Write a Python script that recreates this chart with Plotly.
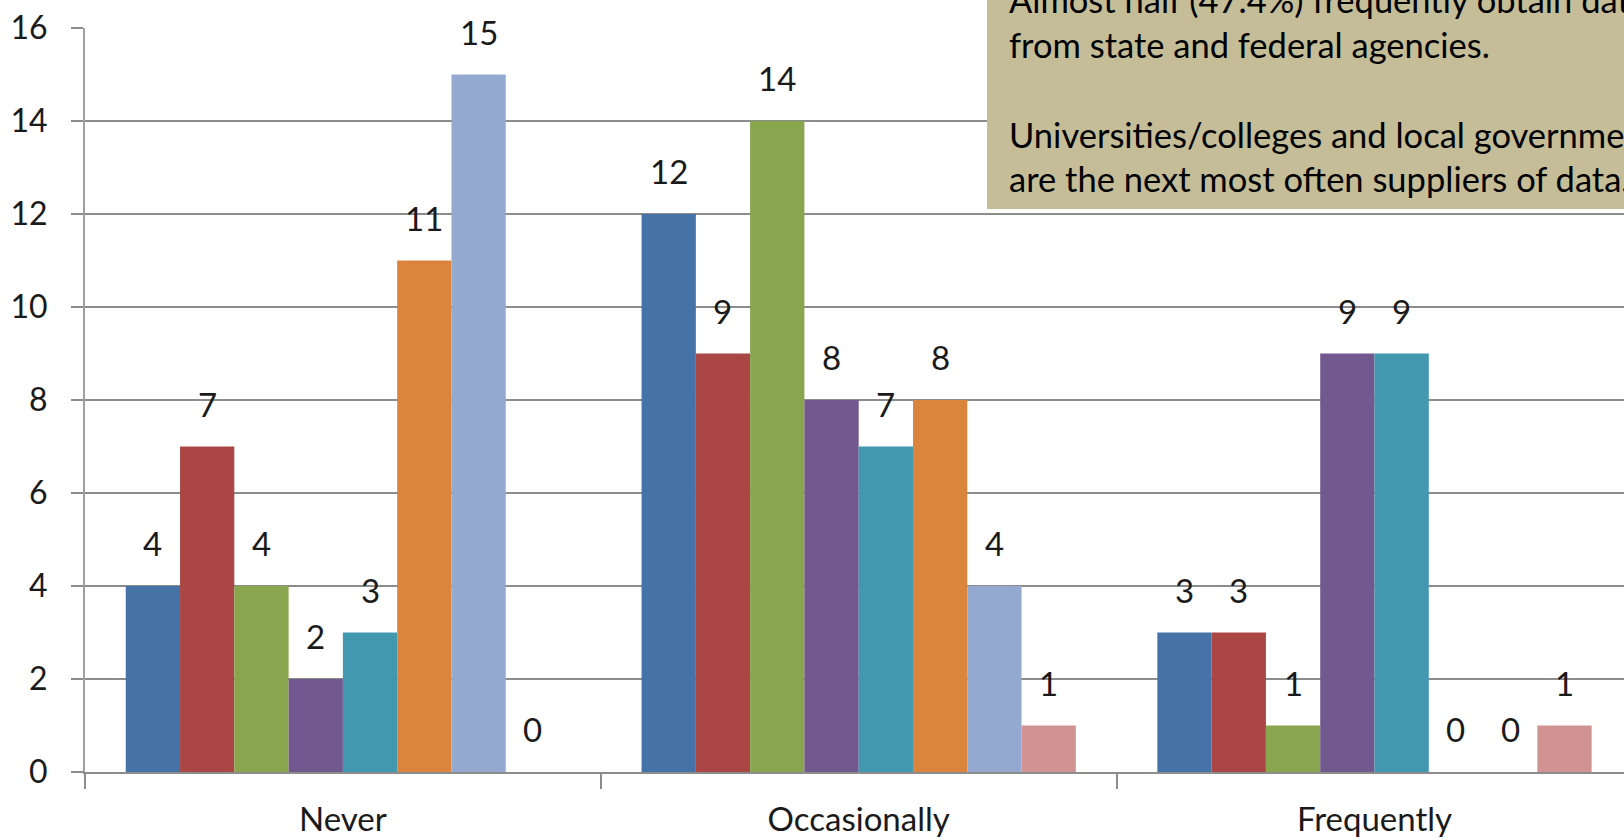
import plotly.graph_objects as go

# Response frequency per data source (8 sources, 3 frequency groups)
categories = ["Never", "Occasionally", "Frequently"]
series_values = [
    [4, 12, 3],
    [7, 9, 3],
    [4, 14, 1],
    [2, 8, 9],
    [3, 7, 9],
    [11, 8, 0],
    [15, 4, 0],
    [0, 1, 1],
]
series_colors = ["#4572A7", "#AA4643", "#89A54E", "#71588F",
                 "#4198AF", "#DB843D", "#93A9CF", "#D19392"]
y_ticks = [0, 2, 4, 6, 8, 10, 12, 14, 16]
note_lines = [
    "Almost half (47.4%) frequently obtain data",
    "from state and federal agencies.",
    "",
    "Universities/colleges and local governments",
    "are the next most often suppliers of data.",
]

W, H = 1624, 840
ML, MR, MT, MB = 85, 0, 28, 68
PW, PH = W - ML - MR, H - MT - MB
FONT = "Lato, 'Open Sans', sans-serif"
BARGAP = 0.158
n_series = len(series_values)
bar_w = (1 - BARGAP) / n_series


def px_x(px):
    return (px - ML) / PW


def px_y(py):
    return 1 - (py - MT) / PH


fig = go.Figure()
for vals, col in zip(series_values, series_colors):
    fig.add_trace(go.Bar(x=categories, y=vals, marker=dict(color=col, line=dict(width=0)),
                         showlegend=False, hoverinfo="skip"))

annotations = []
# value labels above each bar
for i, vals in enumerate(series_values):
    for j, v in enumerate(vals):
        annotations.append(dict(
            x=j + (i - (n_series - 1) / 2) * bar_w, y=v, xref="x", yref="y",
            text=str(v), showarrow=False, yanchor="middle", xanchor="center",
            yshift=43, font=dict(family=FONT, size=33, color="#1a1a1a")))

# note box text
note_baselines = [8, 53, 97, 143, 187]
for line, base in zip(note_lines, note_baselines):
    if not line:
        continue
    annotations.append(dict(
        x=px_x(1007), y=px_y(base), xref="paper", yref="paper",
        text=line, showarrow=False, xanchor="left", yanchor="bottom",
        yshift=-14, font=dict(family=FONT, size=34.5, color="#000000")))

fig.update_layout(
    width=W, height=H,
    margin=dict(l=ML, r=MR, t=MT, b=MB, pad=0, autoexpand=False),
    paper_bgcolor="white", plot_bgcolor="white",
    barmode="group", bargap=BARGAP, bargroupgap=0,
    annotations=annotations,
    shapes=[dict(type="rect", xref="paper", yref="paper",
                 x0=px_x(987), x1=1.2, y0=px_y(209), y1=1.2,
                 fillcolor="#C4BD97", line=dict(width=0), layer="above")],
    xaxis=dict(
        type="category", range=[-0.5, -0.5 + PW / 515.8], automargin=False,
        showline=True, linecolor="#8C8C8C", linewidth=2,
        ticks="outside", tickson="boundaries", ticklen=15, tickcolor="#8C8C8C", tickwidth=1.5,
        tickfont=dict(family=FONT, size=33, color="#1a1a1a"),
        ticklabelstandoff=17, showgrid=False, fixedrange=True,
    ),
    yaxis=dict(
        range=[0, 16], tickvals=y_ticks, ticktext=[str(t) for t in y_ticks], automargin=False,
        showgrid=True, gridcolor="#8C8C8C", gridwidth=1.5, zeroline=False,
        showline=True, linecolor="#A0A0A0", linewidth=2,
        ticks="outside", ticklen=12, tickcolor="#8C8C8C", tickwidth=1.5,
        tickfont=dict(family=FONT, size=32, color="#1a1a1a"),
        ticklabelstandoff=17, fixedrange=True,
    ),
)

fig.write_html("out.html", config={"displayModeBar": False})
